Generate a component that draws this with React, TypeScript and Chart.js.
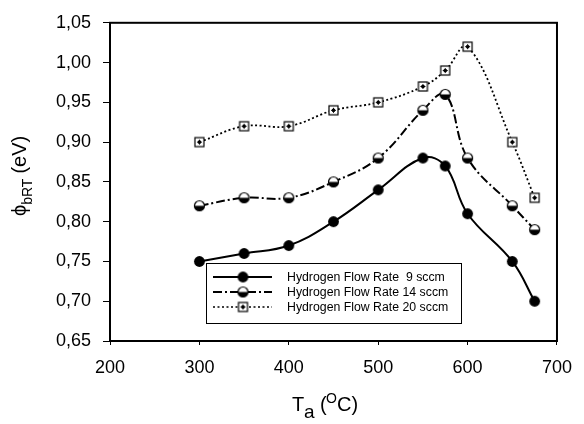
import React, { useEffect, useRef } from "react";
import { Chart, registerables } from "chart.js";

Chart.register(...registerables);

const temps = [300, 350, 400, 450, 500, 550, 575, 600, 650, 675];
const flow9 = [0.75, 0.76, 0.77, 0.8, 0.84, 0.88, 0.87, 0.81, 0.75, 0.7];
const flow14 = [0.82, 0.83, 0.83, 0.85, 0.88, 0.94, 0.96, 0.88, 0.82, 0.79];
const flow20 = [0.9, 0.92, 0.92, 0.94, 0.95, 0.97, 0.99, 1.02, 0.9, 0.83];
const seriesLabels = [
  "Hydrogen Flow Rate  9 sccm",
  "Hydrogen Flow Rate 14 sccm",
  "Hydrogen Flow Rate 20 sccm",
];
const xTicks = [200, 300, 400, 500, 600, 700];

const FONT = "Arial, 'Liberation Sans', sans-serif";

function makeMarker(kind: string): HTMLCanvasElement {
  const c = document.createElement("canvas");
  c.width = 13;
  c.height = 13;
  const g = c.getContext("2d")!;
  g.lineWidth = 1.2;
  g.strokeStyle = "#000";
  if (kind === "filled") {
    g.beginPath();
    g.arc(6.5, 6.5, 5.4, 0, Math.PI * 2);
    g.fillStyle = "#000";
    g.fill();
  } else if (kind === "half") {
    g.beginPath();
    g.arc(6.5, 6.5, 5, 0, Math.PI * 2);
    g.fillStyle = "#fff";
    g.fill();
    g.beginPath();
    g.arc(6.5, 6.5, 5, 0, Math.PI);
    g.closePath();
    g.fillStyle = "#000";
    g.fill();
    g.beginPath();
    g.arc(6.5, 6.5, 5, 0, Math.PI * 2);
    g.stroke();
  } else {
    g.fillStyle = "#fff";
    g.fillRect(2, 2, 9, 9);
    g.strokeRect(2, 2, 9, 9);
    g.fillStyle = "#000";
    g.fillRect(5, 5, 3, 3);
    g.fillRect(6, 4, 1, 5);
    g.fillRect(4, 6, 5, 1);
  }
  return c;
}

export default function App() {
  const ref = useRef<HTMLCanvasElement | null>(null);
  useEffect(() => {
    const m1 = makeMarker("filled");
    const m2 = makeMarker("half");
    const m3 = makeMarker("square");
    const dashes = [[], [9, 3, 2, 3], [2, 2.5]];
    const markers = [m1, m2, m3];

    const decor = {
      id: "decor",
      afterDraw(chart: any) {
        const ctx = chart.ctx;
        const a = chart.chartArea;
        ctx.save();
        ctx.strokeStyle = "#000";
        ctx.lineWidth = 2;
        ctx.strokeRect(a.left, a.top, a.right - a.left, a.bottom - a.top);

        // legend
        const lx = 206, ly = 263, lw = 255, lh = 60;
        ctx.lineWidth = 1;
        ctx.fillStyle = "#fff";
        ctx.fillRect(lx, ly, lw, lh);
        ctx.strokeRect(lx + 0.5, ly + 0.5, lw, lh);
        const rows = [277, 292, 307];
        ctx.font = "12.3px " + FONT;
        ctx.textBaseline = "middle";
        for (let i = 0; i < 3; i++) {
          const y = rows[i];
          ctx.beginPath();
          ctx.setLineDash(dashes[i]);
          ctx.lineWidth = i === 2 ? 1.5 : 2;
          ctx.moveTo(213, y);
          ctx.lineTo(272, y);
          ctx.stroke();
          ctx.setLineDash([]);
          ctx.drawImage(markers[i], 243 - 6.5, y - 6.5);
          ctx.fillStyle = "#000";
          ctx.textAlign = "left";
          ctx.fillText(seriesLabels[i], 287, y + 0.5);
        }

        // x title
        ctx.fillStyle = "#000";
        ctx.textBaseline = "alphabetic";
        ctx.textAlign = "left";
        ctx.font = "20px " + FONT;
        ctx.fillText("T", 292, 411);
        ctx.font = "19px " + FONT;
        ctx.fillText("a", 304, 418);
        ctx.font = "20px " + FONT;
        ctx.fillText("(", 320, 411);
        ctx.font = "14px " + FONT;
        ctx.fillText("O", 326, 403);
        ctx.font = "20px " + FONT;
        ctx.fillText("C)", 337, 411);

        // y title
        ctx.translate(26, 168);
        ctx.rotate(-Math.PI / 2);
        ctx.textAlign = "left";
        let yx = -48;
        ctx.font = "20px " + FONT;
        ctx.fillText("\u03d5", yx, 0);
        yx += ctx.measureText("\u03d5").width;
        ctx.font = "14px " + FONT;
        ctx.fillText("bRT", yx, 6);
        yx += ctx.measureText("bRT").width + 5;
        ctx.font = "20px " + FONT;
        ctx.fillText("(eV)", yx, 0);
        ctx.restore();
      },
    };

    const mk = (label: string, data: number[], i: number) => ({
      label,
      data: temps.map((t, k) => ({ x: t, y: data[k] })),
      borderColor: "#000",
      backgroundColor: "#000",
      borderWidth: i === 2 ? 1.8 : 2,
      borderDash: dashes[i],
      tension: 0.4,
      pointStyle: markers[i],
      pointRadius: 6,
      fill: false,
    });

    const chart = new Chart(ref.current!, {
      type: "line",
      data: {
        datasets: [
          mk(seriesLabels[0], flow9, 0),
          mk(seriesLabels[1], flow14, 1),
          mk(seriesLabels[2], flow20, 2),
        ],
      },
      options: {
        animation: false,
        responsive: false,
        maintainAspectRatio: false,
        layout: { padding: { left: 0, right: 25, top: 16, bottom: 0 } },
        plugins: { legend: { display: false }, tooltip: { enabled: false } },
        scales: {
          x: {
            type: "linear",
            min: 200,
            max: 700,
            afterBuildTicks: (s: any) => {
              s.ticks = xTicks.map((v) => ({ value: v }));
            },
            afterFit: (s: any) => {
              s.height = 83;
            },
            grid: { drawOnChartArea: false, drawTicks: true, tickLength: 4, color: "#000", lineWidth: 1 },
            border: { display: true, color: "#000", width: 2 },
            ticks: {
              color: "#000",
              font: { family: FONT, size: 18 },
              padding: 12,
              maxRotation: 0,
            },
          },
          y: {
            type: "linear",
            min: 0.65,
            max: 1.05,
            afterBuildTicks: (s: any) => {
              const t = [];
              for (let i = 0; i <= 8; i++) t.push({ value: Math.round((0.65 + i * 0.05) * 100) / 100 });
              s.ticks = t;
            },
            afterFit: (s: any) => {
              s.width = 110;
            },
            grid: { drawOnChartArea: false, drawTicks: true, tickLength: 7, color: "#000", lineWidth: 1 },
            border: { display: true, color: "#000", width: 2 },
            ticks: {
              color: "#000",
              font: { family: FONT, size: 18 },
              padding: 12,
              callback: (v: any) => Number(v).toFixed(2).replace(".", ","),
            },
          },
        },
      },
      plugins: [decor],
    } as any);
    return () => chart.destroy();
  }, []);

  return (
    <div style={{ position: "fixed", left: 0, top: 0, width: 584, height: 424, background: "#fff" }}>
      <canvas ref={ref} width={584} height={424} style={{ width: 584, height: 424 }} />
    </div>
  );
}
